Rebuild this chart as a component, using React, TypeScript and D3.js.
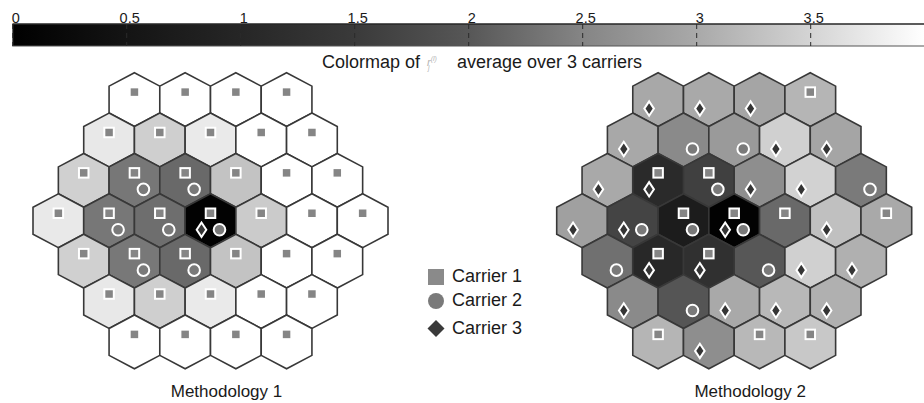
import React from 'react';
import * as d3 from 'd3';

// Colormap (value -> gray level)
const cmapValues = [0, 0.5, 1, 1.5, 2, 2.5, 3, 3.5, 4];
const cmapGrays = [0, 20, 38, 58, 87, 133, 169, 212, 255];
const cbTicks = [0, 0.5, 1, 1.5, 2, 2.5, 3, 3.5, 4];
// the "4" label falls outside the picture in the reference, so it is not drawn
const cbTickLabels = ['0', '0.5', '1', '1.5', '2', '2.5', '3', '3.5', ''];

// Hexagonal layout: number of cells per row (top to bottom)
const rowSizes = [4, 5, 6, 7, 6, 5, 4];

// Methodology 1: average value per cell
const m1Values = [
  [4.0, 4.0, 4.0, 4.0],
  [3.73, 3.44, 3.75, 4.0, 4.0],
  [3.45, 2.35, 2.2, 3.3, 4.0, 4.0],
  [3.74, 2.35, 2.25, 0.05, 3.4, 4.0, 4.0],
  [3.45, 2.36, 2.2, 3.3, 4.0, 4.0],
  [3.73, 3.44, 3.75, 4.0, 4.0],
  [4.0, 4.0, 4.0, 4.0],
];
// carriers used in each cell ("1","2","3" combos)
const m1Carriers = [
  ['1', '1', '1', '1'],
  ['1', '1', '1', '1', '1'],
  ['1', '12', '12', '1', '1', '1'],
  ['1', '12', '12', '123', '1', '1', '1'],
  ['1', '12', '12', '1', '1', '1'],
  ['1', '1', '1', '1', '1'],
  ['1', '1', '1', '1'],
];

// Methodology 2
const m2Values = [
  [2.99, 3.0, 2.95, 3.14],
  [2.98, 2.57, 2.79, 3.45, 2.95],
  [3.0, 1.1, 1.6, 2.62, 3.48, 2.38],
  [2.87, 1.67, 0.72, 0.05, 2.2, 3.27, 3.0],
  [2.27, 1.05, 1.25, 2.0, 3.45, 3.08],
  [2.57, 1.96, 3.0, 3.17, 3.08],
  [3.14, 2.62, 3.17, 3.36],
];
const m2Carriers = [
  ['3', '3', '3', '1'],
  ['3', '2', '2', '3', '3'],
  ['3', '13', '12', '3', '3', '2'],
  ['3', '23', '12', '123', '1', '3', '1'],
  ['2', '13', '13', '2', '3', '3'],
  ['3', '2', '3', '3', '3'],
  ['1', '3', '1', '1'],
];

const legendLabels = ['Carrier 1', 'Carrier 2', 'Carrier 3'];
const panelTitles = ['Methodology 1', 'Methodology 2'];

const FONT = '"Liberation Sans", Arial, Helvetica, sans-serif';
const W = 924;
const H = 403;

const grayScale = d3
  .scaleLinear<string>()
  .domain(cmapValues)
  .range(cmapGrays.map((g) => d3.rgb(g, g, g).formatHex()))
  .clamp(true);

const hexUnit: [number, number][] = [
  [0, -2 / 3],
  [0.5, -1 / 3],
  [0.5, 1 / 3],
  [0, 2 / 3],
  [-0.5, 1 / 3],
  [-0.5, -1 / 3],
];

const MARK_FILL1 = '#858585';
const MARK_FILL2 = '#7a7a7a';
const MARK_FILL3 = '#353535';

function Marker({ c, x, y }: { c: string; x: number; y: number }) {
  if (c === '1') {
    const s = 9.5;
    return (
      <rect x={x - s / 2} y={y - 7.5 - s / 2} width={s} height={s} fill={MARK_FILL1} stroke="#fff" strokeWidth={2} />
    );
  }
  if (c === '2') {
    return <circle cx={x + 9} cy={y + 9} r={5.8} fill={MARK_FILL2} stroke="#fff" strokeWidth={2} />;
  }
  const dx = x - 9;
  const dy = y + 9;
  const p = `M${dx},${dy - 7.2}L${dx + 4.8},${dy}L${dx},${dy + 7.2}L${dx - 4.8},${dy}Z`;
  return <path d={p} fill={MARK_FILL3} stroke="#fff" strokeWidth={2} />;
}

function Panel({
  cx,
  values,
  carriers,
  title,
}: {
  cx: number;
  values: number[][];
  carriers: string[][];
  title: string;
}) {
  const xScale = d3.scaleLinear().domain([-3.5, 3.5]).range([cx - 177.5, cx + 177.5]);
  const yScale = d3.scaleLinear().domain([-3, 3]).range([99.6, 341.9]);
  const line = d3.line().curve(d3.curveLinearClosed);
  const cells: { u: number; v: number; val: number; car: string; key: string }[] = [];
  rowSizes.forEach((n, r) => {
    for (let i = 0; i < n; i++) {
      cells.push({ u: i - (n - 1) / 2, v: r - 3, val: values[r][i], car: carriers[r][i], key: `${r}-${i}` });
    }
  });
  return (
    <g>
      {cells.map((c) => (
        <path
          key={c.key}
          d={line(hexUnit.map(([a, b]) => [xScale(c.u + a), yScale(c.v + b)]) as [number, number][]) || ''}
          fill={grayScale(c.val)}
          stroke="#383838"
          strokeWidth={1.6}
          strokeLinejoin="miter"
        />
      ))}
      {cells.map((c) => (
        <g key={'m' + c.key}>
          {c.car.split('').map((k) => (
            <Marker key={k} c={k} x={xScale(c.u)} y={yScale(c.v)} />
          ))}
        </g>
      ))}
      <text x={cx + 16} y={397} textAnchor="middle" fontSize={17} fill="#1a1a1a" fontFamily={FONT}>
        {title}
      </text>
    </g>
  );
}

export default function App() {
  const cb = d3.scaleLinear().domain([0, 4]).range([12.7, 924.7]);
  const barY = 24;
  const barH = 22;
  const legendY = [277, 301, 328.5];
  return (
    <svg
      width={W}
      height={H}
      viewBox={`0 0 ${W} ${H}`}
      style={{ position: 'absolute', left: 0, top: 0, background: '#fff' }}
    >
      <defs>
        <linearGradient id="cbar" gradientUnits="userSpaceOnUse" x1={cb(0)} x2={cb(4)} y1={0} y2={0}>
          {cmapValues.map((v) => (
            <stop key={v} offset={`${(v / 4) * 100}%`} stopColor={grayScale(v)} />
          ))}
        </linearGradient>
      </defs>
      {/* colorbar */}
      <rect x={cb(0)} y={barY} width={cb(4) - cb(0)} height={barH} fill="url(#cbar)" stroke="#555" strokeWidth={1} />
      <line x1={cb(0)} x2={cb(4)} y1={barY} y2={barY} stroke="#111" strokeWidth={1.2} />
      {cbTicks.map((t, i) => (
        <g key={t}>
          <line
            x1={cb(t)}
            x2={cb(t)}
            y1={barY}
            y2={barY + barH}
            stroke="#2a2a2a"
            strokeWidth={1}
            strokeDasharray="5,4"
          />
          {cbTickLabels[i] ? (
            <text x={cb(t) + 3} y={22.5} textAnchor="middle" fontSize={14.5} fill="#1a1a1a" fontFamily={FONT}>
              {cbTickLabels[i]}
            </text>
          ) : null}
        </g>
      ))}
      {/* colorbar caption */}
      <text x={322} y={68} fontSize={18} fill="#1a1a1a" fontFamily={FONT}>
        Colormap of
      </text>
      <text x={427} y={66} fontSize={11} fill="#b5b5b5" fontFamily={FONT} fontStyle="italic">
        r
        <tspan dy={-5} fontSize={7}>
          (l)
        </tspan>
        <tspan dx={-9} dy={9} fontSize={7}>
          j
        </tspan>
      </text>
      <text x={457} y={68} fontSize={18} fill="#1a1a1a" fontFamily={FONT}>
        average over 3 carriers
      </text>

      <Panel cx={210.5} values={m1Values} carriers={m1Carriers} title={panelTitles[0]} />
      <Panel cx={734.2} values={m2Values} carriers={m2Carriers} title={panelTitles[1]} />

      {/* legend */}
      <rect x={428} y={legendY[0] - 8} width={16} height={16} fill="#8a8a8a" />
      <circle cx={436} cy={legendY[1]} r={8} fill="#7a7a7a" />
      <path
        d={`M436,${legendY[2] - 8.5}L444.5,${legendY[2]}L436,${legendY[2] + 8.5}L427.5,${legendY[2]}Z`}
        fill="#3a3a3a"
      />
      {legendLabels.map((l, i) => (
        <text key={l} x={452} y={legendY[i] + 5} fontSize={18} fill="#1a1a1a" fontFamily={FONT}>
          {l}
        </text>
      ))}
    </svg>
  );
}
